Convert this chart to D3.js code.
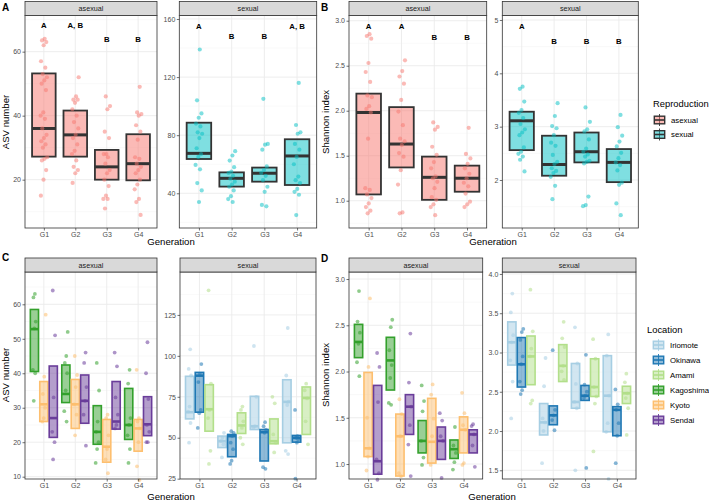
<!DOCTYPE html>
<html><head><meta charset="utf-8">
<script src="https://cdn.jsdelivr.net/npm/d3@7"></script>
<style>body{margin:0;background:#fff} text{font-family:"Liberation Sans",Arial,Helvetica,sans-serif}</style>
</head><body><svg id="c" width="709" height="501"></svg>
<script>
// ---------------- DATA ----------------
const generations = ["G1","G2","G3","G4"];
const reproductions = ["asexual","sexual"];
const reproductionColors = ["#F8766D","#00BFC4"];
const locations = ["Iriomote","Okinawa","Amami","Kagoshima","Kyoto","Sendai"];
const locationColors = ["#a6cee3","#1f78b4","#b2df8a","#33a02c","#fdbf6f","#6a3d9a"];
const asexualLocations = ["Kagoshima","Kyoto","Sendai"];
const sexualLocations = ["Iriomote","Okinawa","Amami"];

// Panel A : ASV number by reproduction
const asvAsexualPoints = [
  [64,63.5,63,62,57,55,53,52,51,50,48,41,40,39,36,34,33,32,31,30,27,26.5,26,23,20,15],
  [52,46,45,45,44,42,40,38,36,34,33,31,29,28,26,24,23,22,19],
  [46,43,42,35,33,28,28,27,25,23,22,20,18,15,14,14,11],
  [49,41,40.5,40,37,35,32.5,27,26.5,25,24,23,22,20,18.5,17,14,13,9]
];
const asvAsexualBoxes = [[27.2,36,53.2],[27.2,34,41.6],[20,24,29.3],[19.8,25,34.2]];
const asvAsexualLetters = ["A","A, B","B","B"];
const asvAsexualLetterY = [68.3,68.3,63.9,63.9];
const asvAsexualTicks = [20,40,60];
const asvAsexualMinor = [10,30,50,70];

const asvSexualPoints = [
  [139,104,95,92,88,86,82,81,78,71,67,65,59.5,56.5,47,42,34],
  [69,66,62.5,58,55,54,52,50,48,46,44.5,42,38,36,34],
  [105,74,73.5,70,58.5,56,54,52,49,44.5,41,32,31],
  [116,87,82,81,74,70,65,60,51.5,49,47,43,41,39,25]
];
const asvSexualBoxes = [[63.6,67.5,88.6],[44.6,50.3,54.4],[48,53.8,57.7],[45.7,65.7,77.2]];
const asvSexualLetters = ["A","B","B","A, B"];
const asvSexualLetterY = [154.7,148.3,148.3,154.7];
const asvSexualTicks = [40,80,120,160];
const asvSexualMinor = [20,60,100,140];

// Panel B : Shannon index by reproduction
const shannonAsexualPoints = [
  [2.85,2.83,2.8,2.53,2.43,2.32,2.17,2.15,2.05,2.02,1.98,1.69,1.14,1.12,1.07,1.03,0.97,0.93,0.89,0.86],
  [2.56,2.44,2.38,2.3,2.12,1.99,1.84,1.69,1.66,1.62,1.53,1.49,1.34,1.18,0.87,0.86],
  [1.87,1.82,1.79,1.6,1.51,1.43,1.36,1.27,1.25,1.21,1.14,1.04,1.01,0.96,0.93,0.84],
  [1.81,1.52,1.47,1.41,1.36,1.3,1.25,1.2,1.16,1.08,0.99,0.96,0.93]
];
const shannonAsexualBoxes = [[1.07,1.98,2.19],[1.37,1.63,2.04],[1.01,1.26,1.49],[1.1,1.25,1.39]];
const shannonAsexualLetters = ["A","A","B","B"];
const shannonAsexualLetterY = [2.94,2.94,2.82,2.82];
const shannonAsexualTicks = [1.0,1.5,2.0,2.5,3.0];
const shannonAsexualMinor = [0.75,1.25,1.75,2.25,2.75];

const shannonSexualPoints = [
  [3.75,3.71,3.47,3.31,3.26,3.16,3.05,2.95,2.89,2.84,2.61,2.53,2.49,2.44,2.38,2.16],
  [3.44,3.2,3.01,2.97,2.84,2.7,2.64,2.47,2.34,2.3,2.22,2.17,2.13,2.06,1.89,1.64],
  [3.36,3.09,2.95,2.91,2.76,2.59,2.53,2.48,2.44,2.36,2.34,2.31,1.69,1.53,1.51],
  [3.22,2.99,2.83,2.72,2.63,2.51,2.41,2.33,2.28,2.18,1.95,1.91,1.56,1.34]
];
const shannonSexualBoxes = [[2.56,3.11,3.28],[2.08,2.29,2.83],[2.33,2.53,2.89],[1.96,2.33,2.58]];
const shannonSexualLetters = ["A","B","B","B"];
const shannonSexualLetterY = [4.89,4.6,4.6,4.6];
const shannonSexualTicks = [2,3,4,5];
const shannonSexualMinor = [1.5,2.5,3.5,4.5];

// Panel C : ASV number by location
const asvKagoshimaPoints = [[63,62,55,53,41,40,32],[52,45,43,40,35,29,26],[43,35,26,23,20,18,14],[41,37,27,25,22,18,14]];
const asvKagoshimaBoxes = [[40.5,52.8,58.5],[31.5,34,42.4],[19.4,23,30.6],[20.8,25,35.6]];
const asvKyotoPoints = [[57,39,34,30,27,26],[45,39.5,36,31,28,22],[28,27,22,18,15,11],[41,27,26,24,20,13,9]];
const asvKyotoBoxes = [[26,31,37.6],[24,31,38.2],[14.2,18.7,26.6],[17.4,24,26.6]];
const asvSendaiPoints = [[64,51,33,23,20,15],[46,43,36,32,28,19],[46,42,33,28,25,24],[49,40,32.5,25,23,20,20]];
const asvSendaiBoxes = [[21.4,27,42.1],[25.5,32,39.5],[23.8,26,37.6],[21.9,25.2,33.2]];
const asvIriomotePoints = [[104,92,88,69,66,59,47],[53,50,48,46,38],[106,75,57,56],[117,88,72,70,42,40]];
const asvIriomoteBoxes = [[61.5,65.6,87.5],[44,47.9,51],[55,57,75.3],[46.9,71.9,85.4]];
const asvOkinawaPoints = [[95,89,84,67,65,56],[54,53,51,47,43,36,34],[59.5,57,55,53,32,31],[67,51,50,49,47,25]];
const asvOkinawaBoxes = [[65.6,87.9,89.9],[38.4,51,52],[35.8,53.4,55],[47.3,49.9,51.4]];
const asvAmamiPoints = [[140,83,67,62,42,34],[69,67,60,56,50,46],[75,71,52,47,41],[83,79,74,60,46]];
const asvAmamiBoxes = [[54,67.4,82.4],[52.6,57.5,65.2],[46.3,47.9,61.5],[52,74.3,81]];
const asvLocAsexualTicks = [10,20,30,40,50,60];
const asvLocAsexualMinor = [15,25,35,45,55,65];
const asvLocSexualTicks = [25,50,75,100,125];
const asvLocSexualMinor = [37.5,62.5,87.5,112.5,137.5];

// Panel D : Shannon index by location
const shannonKagoshimaPoints = [[2.87,2.54,2.42,2.3,2.1,1.95],[2.56,2.48,2.23,2.07,1.93,1.66,1.64],[1.85,1.68,1.57,1.25,1.07,0.99],[1.4,1.2,1.12,1.02,0.94]];
const shannonKagoshimaBoxes = [[2.15,2.32,2.51],[1.8,2.12,2.37],[1.12,1.25,1.47],[1.06,1.16,1.26]];
const shannonKyotoPoints = [[2.79,2.05,1.5,1.17,1.08,0.93],[1.7,1.54,1.3,0.9,0.87],[1.86,1.75,1.49,1.3,0.99],[1.77,1.55,1.42,1.37,1.01,0.99]];
const shannonKyotoBoxes = [[1.08,1.17,1.99],[0.87,1.3,1.54],[1.01,1.24,1.71],[1.12,1.37,1.51]];
const shannonSendaiPoints = [[2.2,2.05,1.67,1.05,0.9,0.83],[2.41,1.88,1.62,1.42,1.21,0.87],[1.55,1.47,1.3,1.25,0.85],[1.43,1.41,1.32,1.2,0.97]];
const shannonSendaiBoxes = [[0.89,1.03,1.85],[1.32,1.62,1.75],[1.05,1.25,1.4],[1.12,1.32,1.37]];
const shannonIriomotePoints = [[3.75,3.51,3.22,3.13,2.9,2.63,2.16],[2.93,2.57,2.16,2.11,2.0,1.59],[3.32,2.86,2.6,2.37,2.29,1.5],[3.23,2.96,2.45,2.1,1.99,1.39]];
const shannonIriomoteBoxes = [[2.84,3.13,3.39],[1.95,2.11,2.35],[2.29,2.37,2.86],[1.99,2.45,2.96]];
const shannonOkinawaPoints = [[3.3,3.26,3.16,2.95,2.85,2.63,2.52,2.47],[3.03,2.27,2.2,2.14,2.01],[2.97,2.59,2.5,2.45,2.42,1.53],[2.53,2.34,2.27,2.1,1.94,1.59]];
const shannonOkinawaBoxes = [[2.56,2.85,3.19],[2.08,2.2,2.32],[2.39,2.45,2.58],[1.94,2.27,2.31]];
const shannonAmamiPoints = [[3.8,3.27,3.05,2.95,2.39,2.35],[3.39,3.18,3.07,2.83,2.76,2.65],[3.17,2.92,2.56,2.44,2.35,1.74],[2.73,2.62,2.48,2.42,2.29,1.95]];
const shannonAmamiBoxes = [[2.59,2.95,3.21],[2.63,2.83,3.1],[2.44,2.56,2.92],[2.35,2.48,2.57]];
const shannonLocAsexualTicks = [1.0,1.5,2.0,2.5,3.0];
const shannonLocAsexualMinor = [1.25,1.75,2.25,2.75];
const shannonLocSexualTicks = [1.5,2.0,2.5,3.0,3.5,4.0];
const shannonLocSexualMinor = [1.75,2.25,2.75,3.25,3.75];

// ---------------- DRAWING ----------------
const svg = d3.select("#c");
svg.append("rect").attr("width",709).attr("height",501).attr("fill","#fff");
const FONT = '"Liberation Sans",Arial,Helvetica,sans-serif';
const locColor = name => locationColors[locations.indexOf(name)];
const jit = (i,k) => ((((i+1)*0.6180339887 + k*0.3711) % 1) - 0.5);

function panel(o) {
  const g = svg.append("g");
  const x = d3.scalePoint().domain(generations).range([o.x0,o.x1]).padding(0.6);
  const y = d3.scaleLinear().domain(o.yDomain).range([o.y1,o.y0]);
  g.append("rect").attr("x",o.x0).attr("y",o.y0).attr("width",o.x1-o.x0).attr("height",o.y1-o.y0).attr("fill","#fff");
  g.selectAll(null).data(o.minor.filter(v=>v>=o.yDomain[0]&&v<=o.yDomain[1])).join("line")
    .attr("x1",o.x0).attr("x2",o.x1).attr("y1",d=>y(d)).attr("y2",d=>y(d))
    .attr("stroke","#f2f2f2").attr("stroke-width",0.5);
  g.selectAll(null).data(o.ticks).join("line")
    .attr("x1",o.x0).attr("x2",o.x1).attr("y1",d=>y(d)).attr("y2",d=>y(d))
    .attr("stroke","#ebebeb").attr("stroke-width",0.9);
  g.selectAll(null).data(generations).join("line")
    .attr("x1",d=>x(d)).attr("x2",d=>x(d)).attr("y1",o.y0).attr("y2",o.y1)
    .attr("stroke","#ebebeb").attr("stroke-width",0.9);
  const marks = g.append("g");
  g.append("rect").attr("x",o.x0).attr("y",o.y0).attr("width",o.x1-o.x0).attr("height",o.y1-o.y0)
    .attr("fill","none").attr("stroke","#333").attr("stroke-width",0.8);
  // strip
  g.append("rect").attr("x",o.x0).attr("y",o.y0-14).attr("width",o.x1-o.x0).attr("height",14)
    .attr("fill","#d9d9d9").attr("stroke","#333").attr("stroke-width",0.8);
  g.append("text").attr("x",(o.x0+o.x1)/2).attr("y",o.y0-7).attr("dy","0.35em")
    .attr("text-anchor","middle").attr("font-size",7.2).attr("fill","#1a1a1a").text(o.strip);
  // axes
  const ya = g.append("g").attr("transform",`translate(${o.x0},0)`)
    .call(d3.axisLeft(y).tickValues(o.ticks).tickSize(2.5).tickPadding(1.5).tickFormat(o.fmt));
  const xa = g.append("g").attr("transform",`translate(0,${o.y1})`)
    .call(d3.axisBottom(x).tickSize(2.5).tickPadding(1.2));
  [ya,xa].forEach(a=>{
    a.select(".domain").remove();
    a.attr("font-family",FONT).attr("font-size",7);
    a.selectAll(".tick line").attr("stroke","#333").attr("stroke-width",0.7);
    a.selectAll(".tick text").attr("fill","#4d4d4d");
  });
  return {marks,x,y};
}

function reproPanel(o, points, boxes, letters, letterY, color) {
  const p = panel(o);
  const step = p.x.step();
  const bw = 0.75*step;
  const bg = p.marks.selectAll(null).data(generations).join("g");
  bg.append("rect")
    .attr("x",d=>p.x(d)-bw/2).attr("width",bw)
    .attr("y",(d,i)=>p.y(boxes[i][2])).attr("height",(d,i)=>p.y(boxes[i][0])-p.y(boxes[i][2]))
    .attr("fill",color).attr("fill-opacity",0.5).attr("stroke","#333").attr("stroke-width",1.8);
  bg.append("line")
    .attr("x1",d=>p.x(d)-bw/2).attr("x2",d=>p.x(d)+bw/2)
    .attr("y1",(d,i)=>p.y(boxes[i][1])).attr("y2",(d,i)=>p.y(boxes[i][1]))
    .attr("stroke","#333").attr("stroke-width",3);
  generations.forEach((gname,k)=>{
    p.marks.selectAll(null).data(points[k]).join("circle")
      .attr("cx",(d,i)=>p.x(gname)+jit(i,k)*0.22*step)
      .attr("cy",d=>p.y(d)).attr("r",2.1)
      .attr("fill",color).attr("fill-opacity",0.5);
  });
  p.marks.selectAll(null).data(generations).join("text")
    .attr("x",d=>p.x(d)).attr("y",(d,i)=>p.y(letterY[i])).attr("dy","0.35em")
    .attr("text-anchor","middle").attr("font-size",7.8).attr("font-weight","bold").attr("fill","#000")
    .text((d,i)=>letters[i]);
}

function locPanel(o, locs, pointSets, boxSets) {
  const p = panel(o);
  const step = p.x.step();
  const off = 0.3*step, bw = 0.26*step;
  locs.forEach((loc,j)=>{
    const c = locColor(loc);
    const dx = (j-1)*off;
    const boxes = boxSets[j], points = pointSets[j];
    const bg = p.marks.selectAll(null).data(generations).join("g");
    bg.append("rect")
      .attr("x",d=>p.x(d)+dx-bw/2).attr("width",bw)
      .attr("y",(d,i)=>p.y(boxes[i][2])).attr("height",(d,i)=>p.y(boxes[i][0])-p.y(boxes[i][2]))
      .attr("fill",c).attr("fill-opacity",0.5).attr("stroke",c).attr("stroke-width",1.6);
    bg.append("line")
      .attr("x1",d=>p.x(d)+dx-bw/2).attr("x2",d=>p.x(d)+dx+bw/2)
      .attr("y1",(d,i)=>p.y(boxes[i][1])).attr("y2",(d,i)=>p.y(boxes[i][1]))
      .attr("stroke",c).attr("stroke-width",2.6);
    generations.forEach((gname,k)=>{
      p.marks.selectAll(null).data(points[k]).join("circle")
        .attr("cx",(d,i)=>p.x(gname)+dx+jit(i,k+j)*0.12*step)
        .attr("cy",d=>p.y(d)).attr("r",1.9)
        .attr("fill",c).attr("fill-opacity",0.55);
    });
  });
}

const fInt = d3.format("d"), f1 = d3.format(".1f");
const R1 = {y0:15.5, y1:228}, R2 = {y0:272, y1:479};

reproPanel({...R1, x0:25, x1:157, strip:"asexual", yDomain:[4.9,71.3], ticks:asvAsexualTicks, minor:asvAsexualMinor, fmt:fInt},
  asvAsexualPoints, asvAsexualBoxes, asvAsexualLetters, asvAsexualLetterY, reproductionColors[0]);
reproPanel({...R1, x0:179.3, x1:316.7, strip:"sexual", yDomain:[16.1,162.4], ticks:asvSexualTicks, minor:asvSexualMinor, fmt:fInt},
  asvSexualPoints, asvSexualBoxes, asvSexualLetters, asvSexualLetterY, reproductionColors[1]);
reproPanel({...R1, x0:349, x1:486.7, strip:"asexual", yDomain:[0.697,3.058], ticks:shannonAsexualTicks, minor:shannonAsexualMinor, fmt:f1},
  shannonAsexualPoints, shannonAsexualBoxes, shannonAsexualLetters, shannonAsexualLetterY, reproductionColors[0]);
reproPanel({...R1, x0:502.3, x1:638.3, strip:"sexual", yDomain:[1.1,5.084], ticks:shannonSexualTicks, minor:shannonSexualMinor, fmt:fInt},
  shannonSexualPoints, shannonSexualBoxes, shannonSexualLetters, shannonSexualLetterY, reproductionColors[1]);

locPanel({...R2, x0:25, x1:157, strip:"asexual", yDomain:[9.33,69.37], ticks:asvLocAsexualTicks, minor:asvLocAsexualMinor, fmt:fInt},
  asexualLocations, [asvKagoshimaPoints,asvKyotoPoints,asvSendaiPoints], [asvKagoshimaBoxes,asvKyotoBoxes,asvSendaiBoxes]);
locPanel({...R2, x0:180, x1:316, strip:"sexual", yDomain:[24.8,151.2], ticks:asvLocSexualTicks, minor:asvLocSexualMinor, fmt:fInt},
  sexualLocations, [asvIriomotePoints,asvOkinawaPoints,asvAmamiPoints], [asvIriomoteBoxes,asvOkinawaBoxes,asvAmamiBoxes]);
locPanel({...R2, x0:349, x1:482.7, strip:"asexual", yDomain:[0.838,3.076], ticks:shannonLocAsexualTicks, minor:shannonLocAsexualMinor, fmt:f1},
  asexualLocations, [shannonKagoshimaPoints,shannonKyotoPoints,shannonSendaiPoints], [shannonKagoshimaBoxes,shannonKyotoBoxes,shannonSendaiBoxes]);
locPanel({...R2, x0:502.3, x1:636, strip:"sexual", yDomain:[1.389,4.025], ticks:shannonLocSexualTicks, minor:shannonLocSexualMinor, fmt:f1},
  sexualLocations, [shannonIriomotePoints,shannonOkinawaPoints,shannonAmamiPoints], [shannonIriomoteBoxes,shannonOkinawaBoxes,shannonAmamiBoxes]);

// axis titles
function ytitle(x,y,t){ svg.append("text").attr("transform",`translate(${x},${y}) rotate(-90)`).attr("text-anchor","middle").attr("font-size",9.6).attr("fill","#000").text(t); }
function xtitle(x,y,t){ svg.append("text").attr("x",x).attr("y",y).attr("text-anchor","middle").attr("font-size",9.6).attr("fill","#000").text(t); }
ytitle(8.5,122,"ASV number"); ytitle(329,122,"Shannon index");
ytitle(8.5,375,"ASV number"); ytitle(329,375,"Shannon index");
xtitle(171,244.5,"Generation"); xtitle(493,244.5,"Generation");
xtitle(171,500.3,"Generation"); xtitle(492,500.3,"Generation");

// panel tags
[["A",2,10.5],["B",321,10.5],["C",2,261],["D",321,262]].forEach(([t,x,y])=>{
  svg.append("text").attr("x",x).attr("y",y).attr("font-size",10).attr("font-weight","bold").attr("fill","#000").text(t);
});

// legends
function legendKey(x,cy,fill,stroke){
  const g = svg.append("g");
  const w=12, cx=x+w/2;
  g.append("line").attr("x1",cx).attr("x2",cx).attr("y1",cy-6).attr("y2",cy+6).attr("stroke",stroke).attr("stroke-width",0.9);
  g.append("rect").attr("x",x+0.8).attr("y",cy-3.8).attr("width",w-1.6).attr("height",7.6)
    .attr("fill",fill).attr("fill-opacity",0.5).attr("stroke",stroke).attr("stroke-width",1.4);
  g.append("line").attr("x1",x+0.8).attr("x2",x+w-0.8).attr("y1",cy).attr("y2",cy).attr("stroke",stroke).attr("stroke-width",1.6);
}
svg.append("text").attr("x",653).attr("y",107.2).attr("font-size",9.4).attr("fill","#000").text("Reproduction");
reproductions.forEach((r,i)=>{
  const cy = 120+i*14.5;
  legendKey(653.5,cy,reproductionColors[i],"#333");
  svg.append("text").attr("x",671).attr("y",cy).attr("dy","0.35em").attr("font-size",7.8).attr("fill","#000").text(r);
});
svg.append("text").attr("x",647).attr("y",333.2).attr("font-size",9.4).attr("fill","#000").text("Location");
locations.forEach((l,i)=>{
  const cy = 345+i*15;
  legendKey(652.5,cy,locationColors[i],locationColors[i]);
  svg.append("text").attr("x",670).attr("y",cy).attr("dy","0.35em").attr("font-size",7.8).attr("fill","#000").text(l);
});
</script></body></html>
